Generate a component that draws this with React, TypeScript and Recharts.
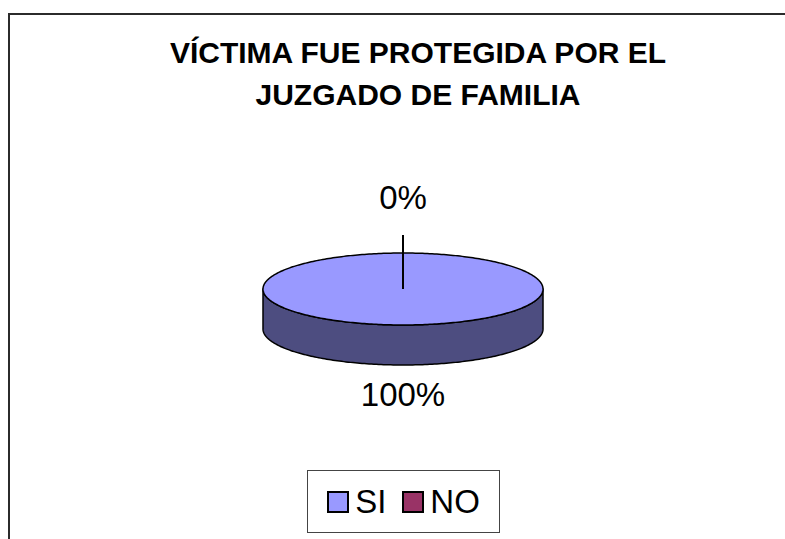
import React from 'react';
import { PieChart, Pie, Cell, Legend } from 'recharts';

const categories = ['SI', 'NO'];
const values = [100, 0];
const colors = ['#9999FF', '#993366'];
const title = ['VÍCTIMA FUE PROTEGIDA POR EL', 'JUZGADO DE FAMILIA'];

const data = categories.map((name, i) => ({ name, value: values[i] }));

const FONT = '"Liberation Sans", Arial, sans-serif';
const TILT = 36 / 140; // flattening of the 3d disc
const DEPTH = 40;

function darken(hex: string, k: number) {
  const n = parseInt(hex.slice(1), 16);
  const r = Math.round(((n >> 16) & 255) * k);
  const g = Math.round(((n >> 8) & 255) * k);
  const b = Math.round((n & 255) * k);
  return `rgb(${r},${g},${b})`;
}

function Slice3D(props: any) {
  const { cx, cy, outerRadius, startAngle, endAngle, fill } = props;
  if (Math.abs(endAngle - startAngle) < 0.01) return <g />;
  const rx = outerRadius;
  const ry = outerRadius * TILT;
  const lo = Math.min(startAngle, endAngle);
  const hi = Math.max(startAngle, endAngle);
  const steps = Math.max(4, Math.ceil(hi - lo));
  const pts: { a: number; x: number; y: number }[] = [];
  for (let i = 0; i <= steps; i++) {
    const a = lo + ((hi - lo) * i) / steps;
    const r = (a * Math.PI) / 180;
    pts.push({ a, x: cx + rx * Math.cos(r), y: cy - ry * Math.sin(r) });
  }
  const full = hi - lo >= 359.99;
  const topD = full
    ? 'M' + pts.map((p) => `${p.x},${p.y}`).join('L') + 'Z'
    : `M${cx},${cy}L` + pts.map((p) => `${p.x},${p.y}`).join('L') + 'Z';

  // side band for the part of the rim that faces the viewer
  const front = pts.filter((p) => Math.sin((p.a * Math.PI) / 180) <= 1e-9);
  let sideD = '';
  if (front.length > 1) {
    const upper = front.map((p) => `${p.x},${p.y}`);
    const lower = front
      .slice()
      .reverse()
      .map((p) => `${p.x},${p.y + DEPTH}`);
    sideD = 'M' + upper.concat(lower).join('L') + 'Z';
  }

  return (
    <g>
      {sideD && <path d={sideD} fill={darken(fill, 0.5)} stroke="#000" strokeWidth={1.5} strokeLinejoin="round" />}
      <path d={topD} fill={fill} stroke="#000" strokeWidth={1.5} strokeLinejoin="round" />
    </g>
  );
}

const renderLabel = (p: any) => {
  const { cx, cy, outerRadius, midAngle, percent } = p;
  const ry = outerRadius * TILT;
  const r = (midAngle * Math.PI) / 180;
  const s = Math.sin(r);
  const ex = cx + outerRadius * Math.cos(r);
  const ey = cy - ry * s;
  const text = `${Math.round(percent * 100)}%`;
  if (s > 0) {
    const ly = ey - 18;
    return (
      <g>
        <line x1={percent === 0 ? cx : ex} y1={percent === 0 ? cy : ey} x2={ex} y2={ly} stroke="#000" strokeWidth={2} />
        <text x={ex} y={ly - 26} textAnchor="middle" fontFamily={FONT} fontSize={33} fill="#000">
          {text}
        </text>
      </g>
    );
  }
  return (
    <text x={ex} y={ey + DEPTH + 41} textAnchor="middle" fontFamily={FONT} fontSize={33} fill="#000">
      {text}
    </text>
  );
};

const renderLegend = (p: any) => {
  const items = (p.payload || [])
    .slice()
    .sort((a: any, b: any) => categories.indexOf(a.value) - categories.indexOf(b.value));
  return (
    <div
      style={{
        boxSizing: 'border-box',
        width: 193,
        height: 63,
        border: '1px solid #444',
        background: '#fff',
        display: 'flex',
        alignItems: 'center',
        justifyContent: 'center',
        fontFamily: FONT,
        fontSize: 33,
        color: '#000',
      }}
    >
      {items.map((e: any, i: number) => (
        <div key={e.value} style={{ display: 'flex', alignItems: 'center', marginLeft: i ? 16 : 0 }}>
          <span
            style={{
              display: 'inline-block',
              boxSizing: 'border-box',
              width: 22,
              height: 22,
              border: '2px solid #000',
              background: e.color || colors[categories.indexOf(e.value)],
              marginRight: 6,
            }}
          />
          <span>{e.value}</span>
        </div>
      ))}
    </div>
  );
};

export default function App() {
  return (
    <div
      style={{
        position: 'absolute',
        left: 0,
        top: 0,
        width: 785,
        height: 539,
        overflow: 'hidden',
        background: '#fff',
      }}
    >
      <div
        style={{
          position: 'absolute',
          left: 8,
          top: 13,
          width: 800,
          height: 560,
          borderLeft: '2px solid #2b2b2b',
          borderTop: '2px solid #2b2b2b',
        }}
      />
      <div
        style={{
          position: 'absolute',
          left: 118,
          top: 32,
          width: 600,
          textAlign: 'center',
          fontFamily: FONT,
          fontWeight: 'bold',
          fontSize: 30,
          lineHeight: '42px',
          color: '#000',
        }}
      >
        {title.map((t, i) => (
          <div key={i}>{t}</div>
        ))}
      </div>
      <div style={{ position: 'absolute', left: 0, top: 0 }}>
        <PieChart width={785} height={539} margin={{ top: 0, right: 0, bottom: 0, left: 0 }}>
          <Pie
            data={data}
            dataKey="value"
            nameKey="name"
            cx={403}
            cy={289}
            outerRadius={140}
            startAngle={90}
            endAngle={-270}
            stroke="#000"
            shape={Slice3D}
            activeShape={Slice3D}
            inactiveShape={Slice3D}
            label={renderLabel}
            labelLine={false}
            isAnimationActive={false}
          >
            {data.map((d, i) => (
              <Cell key={d.name} fill={colors[i]} />
            ))}
          </Pie>
          <Legend
            content={renderLegend}
            itemSorter={null}
            wrapperStyle={{ position: 'absolute', left: 307, top: 470, width: 193, height: 63 }}
          />
        </PieChart>
      </div>
    </div>
  );
}
